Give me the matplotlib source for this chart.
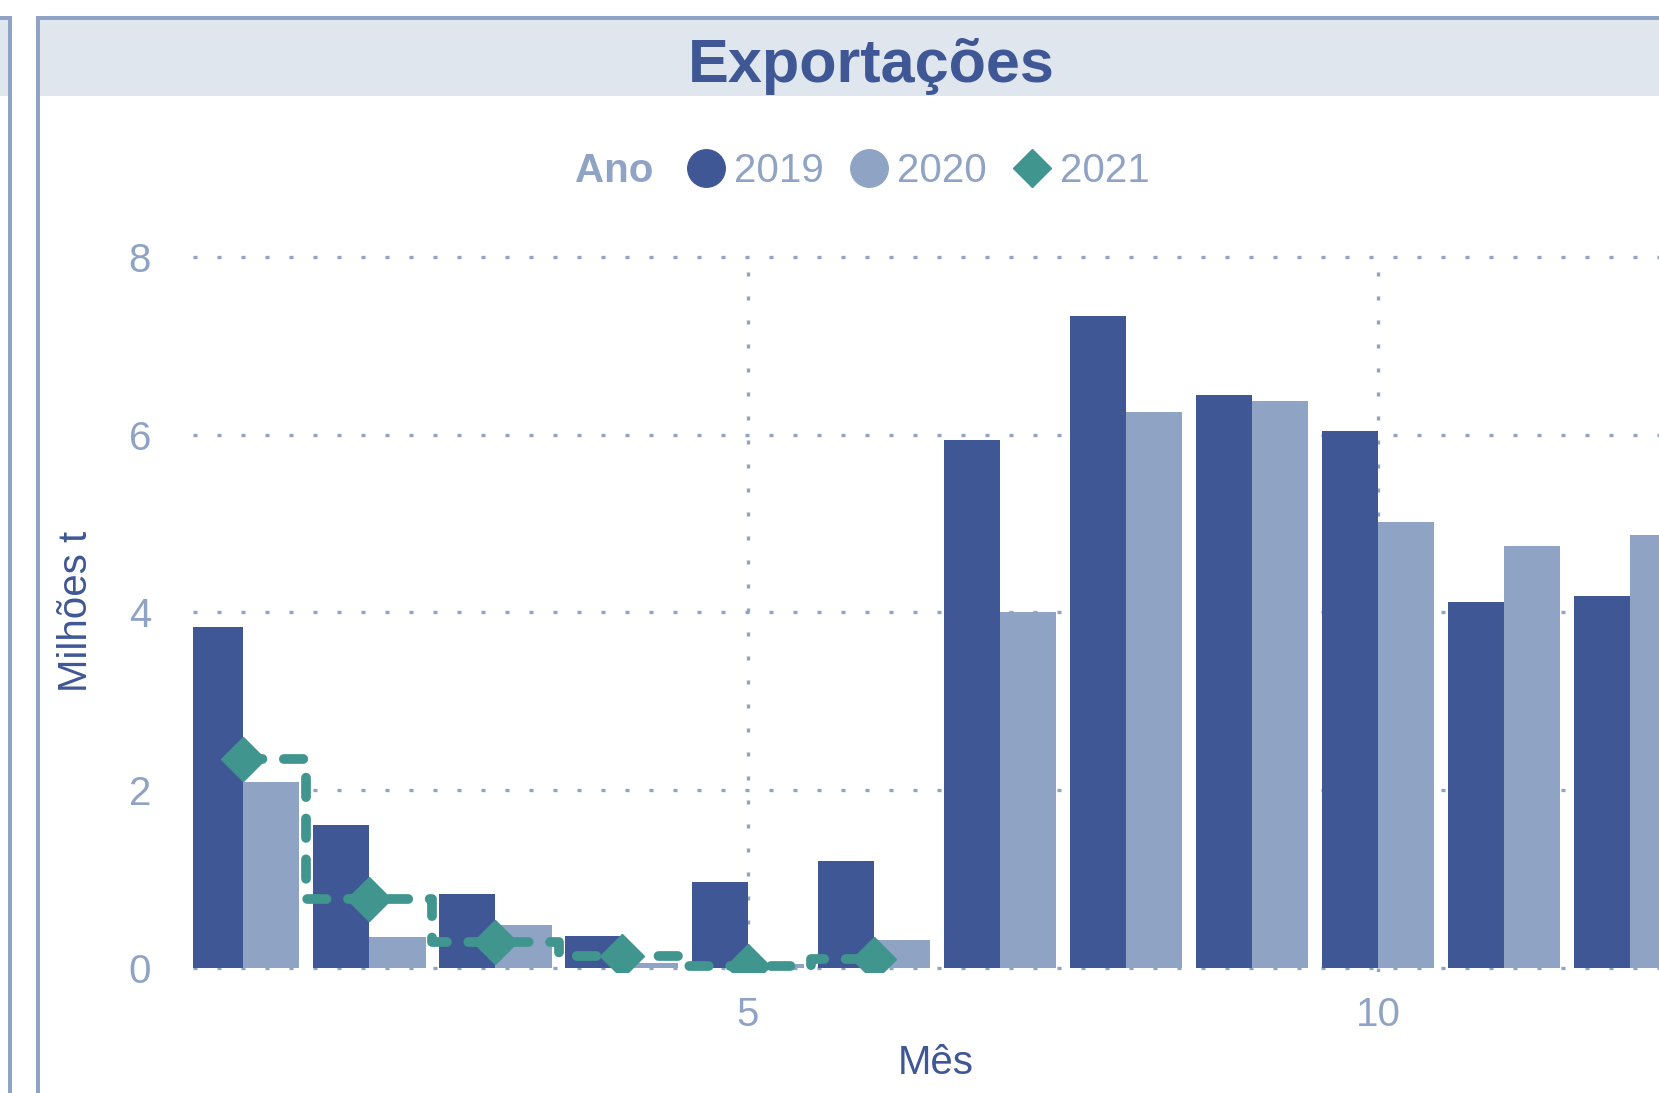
import matplotlib
matplotlib.use('Agg')
from matplotlib import pyplot as plt
from matplotlib.patches import Rectangle
from matplotlib.lines import Line2D

# Dados (milhões de toneladas por mês)
meses = [1, 2, 3, 4, 5, 6, 7, 8, 9, 10, 11, 12]
exp_2019 = [3.84, 1.61, 0.83, 0.36, 0.97, 1.20, 5.94, 7.33, 6.45, 6.04, 4.12, 4.18]
exp_2020 = [2.09, 0.35, 0.48, 0.06, 0.05, 0.31, 4.00, 6.25, 6.38, 5.02, 4.75, 4.87]
meses_2021 = [1, 2, 3, 4, 5, 6]
exp_2021 = [2.35, 0.78, 0.29, 0.13, 0.02, 0.10]
yticks = [0, 2, 4, 6, 8]
xticks = [5, 10]

escuro = '#3f5795'
claro = '#8fa3c4'
verde = '#40968f'
fundo_titulo = '#dfe6ee'

plt.rcParams['font.family'] = ['Liberation Sans', 'DejaVu Sans']

W, H = 1659, 1093


def rect(fig, x0, y0, x1, y1, cor):
    # retangulo em pixels (origem no topo)
    fig.patches.append(Rectangle((x0 / W, 1 - y1 / H), (x1 - x0) / W, (y1 - y0) / H,
                                 transform=fig.transFigure, facecolor=cor,
                                 edgecolor='none', zorder=0))


def main():
    fig = plt.figure(figsize=(16.59, 10.93), dpi=100)

    # painel vizinho (cortado) e moldura do painel
    rect(fig, 0, 20, 8, 96, fundo_titulo)
    rect(fig, 0, 16, 12, 20, claro)
    rect(fig, 8, 16, 12, H, claro)
    rect(fig, 40, 20, W, 96, fundo_titulo)
    rect(fig, 36, 16, W, 20, claro)
    rect(fig, 36, 16, 40, H, claro)

    fig.text(871 / W, 1 - 81.7 / H, 'Exportações', ha='center', va='baseline',
             fontsize=44, fontweight='bold', color=escuro)

    ax = fig.add_axes([192.6 / W, 0.1103, 1 - 192.6 / W, 0.6587])
    largura = 0.445
    x19 = [m - largura / 2 for m in meses]
    x20 = [m + largura / 2 for m in meses]
    ax.bar(x19, exp_2019, width=largura, color=escuro, zorder=2)
    ax.bar(x20, exp_2020, width=largura, color=claro, zorder=2)
    ax.plot(meses_2021, exp_2021, drawstyle='steps-mid', color=verde,
            lw=7, dashes=(2.0, 2.2), dash_capstyle='round', zorder=3)
    ax.plot(meses_2021, exp_2021, ls='none', marker='D', ms=22, color=verde, zorder=4)

    ax.set_xlim(0.598, 12.227)
    ax.set_ylim(-0.05, 8.05)
    ax.set_yticks(yticks)
    ax.set_xticks(xticks)
    for s in ax.spines.values():
        s.set_visible(False)
    ax.tick_params(length=0, labelsize=29, labelcolor=claro)
    ax.tick_params(axis='y', pad=30)
    ax.tick_params(axis='x', pad=17)
    ax.grid(True, color=claro, lw=2.4, linestyle=(0, (1.2, 6)), zorder=0)
    ax.set_axisbelow(True)

    fig.text(76 / W, 1 - 611 / H, 'Milhões t', rotation=90, ha='center', va='center',
             fontsize=29, color=escuro)
    fig.text(936 / W, 1 - 1063 / H, 'Mês', ha='center', va='center',
             fontsize=29, color=escuro)

    # legenda
    fig.text(653 / W, 1 - 171 / H, 'Ano', ha='right', va='center',
             fontsize=29, fontweight='bold', color=claro)
    handles = [Line2D([], [], ls='none', marker='o', ms=27, color=escuro),
               Line2D([], [], ls='none', marker='o', ms=27, color=claro),
               Line2D([], [], ls='none', marker='D', ms=19, color=verde)]
    leg = fig.legend(handles, ['2019', '2020', '2021'], loc='center left',
                     bbox_to_anchor=(686 / W, 1 - 171 / H), ncol=3, frameon=False,
                     fontsize=29, handlelength=1.0, handletextpad=0.2,
                     columnspacing=0.62, borderpad=0, borderaxespad=0)
    for t in leg.get_texts():
        t.set_color(claro)

    fig.savefig('out.png', dpi=100)


if __name__ == '__main__':
    main()
